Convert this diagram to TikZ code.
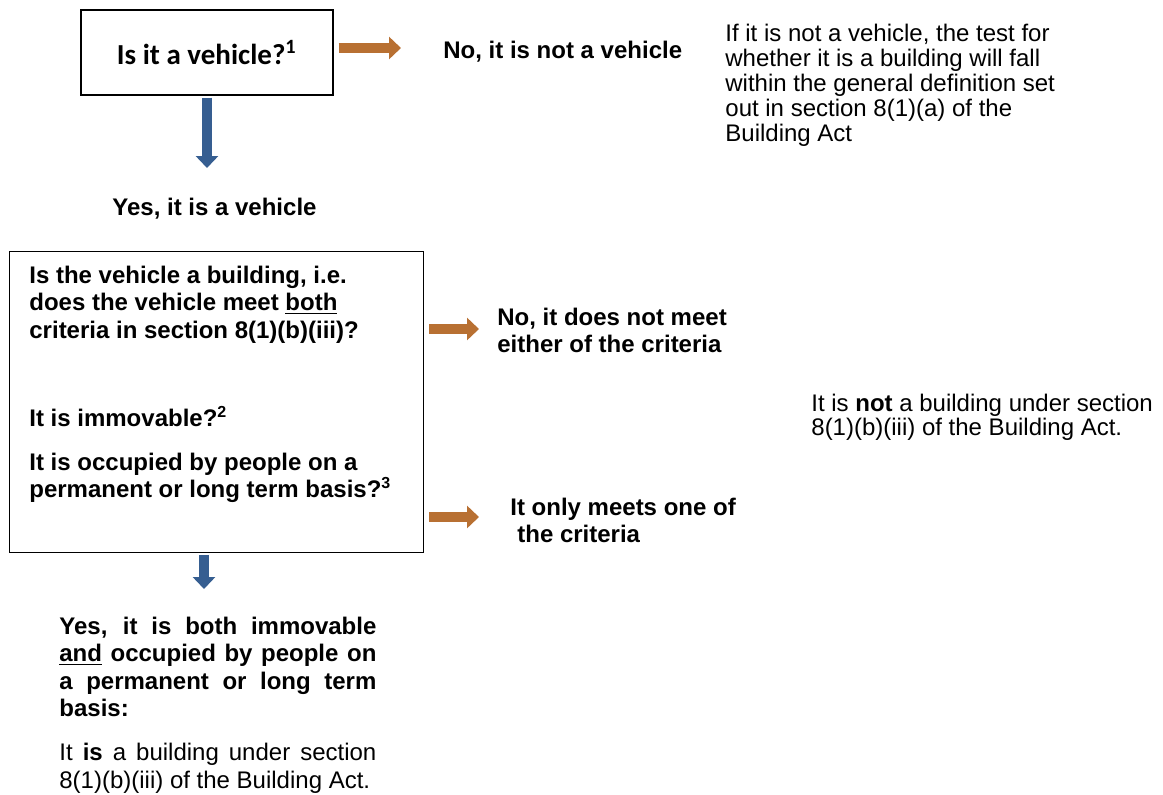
\documentclass[tikz,border=0pt]{standalone}
\usepackage{fontspec}
\setmainfont{Liberation Sans}
\newfontfamily\carlito{Carlito}
\usetikzlibrary{arrows.meta}
\definecolor{arrorange}{RGB}{184,112,50}
\definecolor{arrblue}{RGB}{54,94,145}
\tikzset{every node/.style={inner sep=0pt}, lbl/.style={anchor=base west, font=\fontsize{12}{13.75}\selectfont}, blbl/.style={lbl, font=\fontsize{12}{13.75}\selectfont\bfseries}}
\tikzset{orarrow/.style={arrorange, line width=4.75pt, shorten <=2.5pt, -{Triangle[length=6pt,width=11pt]}}, blarrow/.style={orarrow, arrblue, shorten <=1pt}}

\begin{document}
\begin{tikzpicture}[x=0.5pt,y=-0.5pt]
   \useasboundingbox (0,0) rectangle (1163,794);
   \node (veh) [draw, line width=0.8pt, anchor=north west, minimum width=126pt, minimum height=42.5pt, font=\carlito\fontsize{14.5}{17}\selectfont\bfseries] at (80,9) {Is it a vehicle?\textsuperscript{1}};
   \node (notveh) [blbl] at (443,58) {No, it is not a vehicle};
   \node (notvehnote) [lbl, font=\fontsize{12}{12.5}\selectfont] at (725,41) {\parbox[t]{170pt}{If it is not a vehicle, the test for\\ whether it is a building will fall\\ within the general definition set\\ out in section 8(1)(a) of the\\ Building Act}};
   \node (yesveh) [blbl] at (112,215) {Yes, it is a vehicle};
   \node (bldg) [draw, line width=0.6pt, anchor=north west, minimum width=207pt, minimum height=150.5pt] at (9,251) {};
   \node (bldgq) [blbl] at (29,283) {\parbox[t]{190pt}{Is the vehicle a building, i.e.\\ does the vehicle meet \underline{both}\\ criteria in section 8(1)(b)(iii)?\par\vspace{30.25pt}
      It is immovable?\textsuperscript{2}\par\vspace{8.25pt}
      It is occupied by people on a\\ permanent or long term basis?\textsuperscript{3}}};
   \node (nomeet) [blbl] at (497,325) {\parbox[t]{150pt}{No, it does not meet\\ either of the criteria}};
   \node (onemeet) [blbl] at (510,515) {\parbox[t]{150pt}{It only meets one of\\ \hspace*{3.5pt}the criteria}};
   \node (notbldg) [lbl, font=\fontsize{12}{12}\selectfont] at (811,411) {\parbox[t]{180pt}{It is \textbf{not} a building under section\\ 8(1)(b)(iii) of the Building Act.}};
   \node (isbldg) [lbl] at (59,634) {\parbox[t]{158.5pt}{\bfseries Yes, it is both immovable\linebreak \underline{and} occupied by people on\linebreak a permanent or long term\linebreak basis:\par\vspace{8.25pt}
      \mdseries It \textbf{is} a building under section\linebreak 8(1)(b)(iii) of the Building Act.}};
   \coordinate (notvehA) at (401,48);
   \coordinate (yesvehA) at (207,168);
   \coordinate (nomeetA) at (479,329);
   \coordinate (onemeetA) at (479,517);
   \coordinate (isbldgA) at (204,589);
   \draw[orarrow] (veh.east |- notvehA) -- (notvehA);
   \draw[blarrow] (veh.south -| yesvehA) -- (yesvehA);
   \draw[orarrow] (bldg.east |- nomeetA) -- (nomeetA);
   \draw[orarrow] (bldg.east |- onemeetA) -- (onemeetA);
   \draw[blarrow] (bldg.south -| isbldgA) -- (isbldgA);
\end{tikzpicture}
\end{document}
